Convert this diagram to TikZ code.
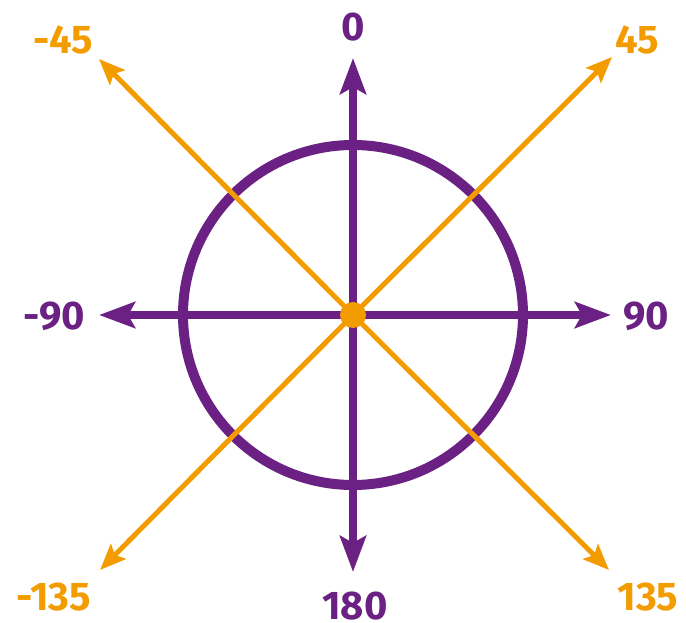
\documentclass[tikz,border=0pt]{standalone}
\usepackage{fontspec}
\setmainfont{Fira Sans}
\usetikzlibrary{arrows.meta}
\definecolor{pur}{HTML}{6B2183}
\definecolor{org}{HTML}{F39C00}
\begin{document}
\begin{tikzpicture}[x=1pt,y=-1pt,
  purarrow/.style={draw=pur, line width=8pt, -{Stealth[length=36pt,width=26pt,inset=7pt]}},
  orgarrow/.style={draw=org, line width=5pt, -{Stealth[length=26pt,width=21pt,inset=5pt]}},
  purlab/.style={text=pur, font=\fontsize{40}{42}\selectfont\bfseries, inner sep=0pt},
  orglab/.style={text=org, font=\fontsize{40}{42}\selectfont\bfseries, inner sep=0pt},
]
\useasboundingbox (0,0) rectangle (686,623);
\coordinate (c) at (353,315);
% tips
\coordinate (tN) at (353,58);
\coordinate (tS) at (353,572);
\coordinate (tW) at (99,315);
\coordinate (tE) at (611,315);
\coordinate (tNW) at (99,59);
\coordinate (tNE) at (612,57);
\coordinate (tSW) at (100,570);
\coordinate (tSE) at (609,570);
% ring
\node[circle, draw=pur, line width=10pt, minimum size=340pt, inner sep=0pt] (ring) at (c) {};
% purple axes
\draw[purarrow] (c) -- (tN);
\draw[purarrow] (c) -- (tS);
\draw[purarrow] (c) -- (tW);
\draw[purarrow] (c) -- (tE);
% orange diagonals
\draw[orgarrow] (c) -- (tNW);
\draw[orgarrow] (c) -- (tNE);
\draw[orgarrow] (c) -- (tSW);
\draw[orgarrow] (c) -- (tSE);
% centre dot
\node[circle, fill=org, minimum size=26pt, inner sep=0pt] (dot) at (c) {};
% labels
\node[purlab] (l0) at (353,27) {0};
\node[purlab] (l180) at (355,606) {180};
\node[purlab] (lm90) at (54,316) {-90};
\node[purlab] (l90) at (646,316) {90};
\node[orglab] (lm45) at (63,40) {-45};
\node[orglab] (l45) at (637,40) {45};
\node[orglab] (lm135) at (54,597) {-135};
\node[orglab] (l135) at (648,597) {135};
\end{tikzpicture}
\end{document}
